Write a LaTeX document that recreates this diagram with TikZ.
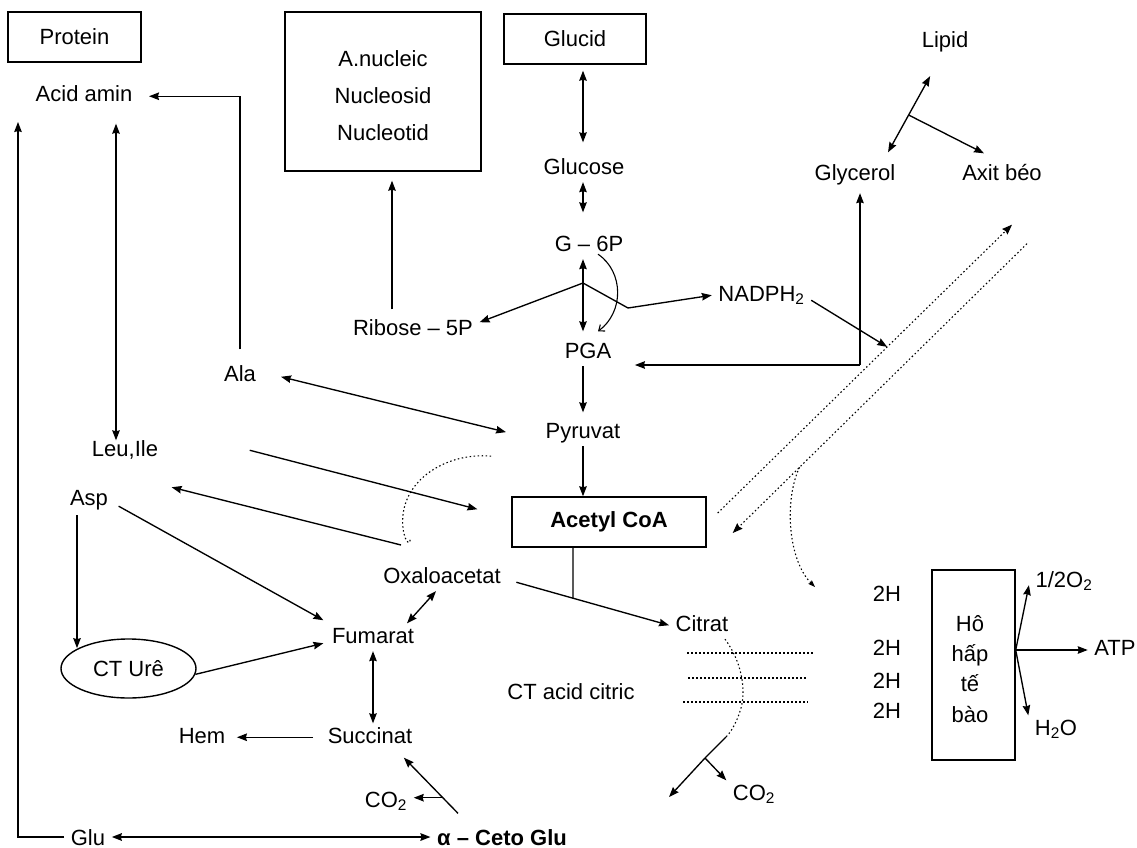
\documentclass[tikz,border=0pt]{standalone}
\usepackage{fontspec}
\setmainfont{Liberation Sans}
\usetikzlibrary{arrows.meta,calc,shapes.geometric}
\begin{document}
\begin{tikzpicture}[x=1pt,y=-1pt,
  line width=1.35pt,
  txt/.style={inner xsep=6pt, inner ysep=3pt, text height=16pt, text depth=4.5pt, font=\fontsize{22}{26}\selectfont, anchor=base},
  btxt/.style={txt, inner ysep=2pt, text depth=0pt},
  bx/.style={draw, line width=1.4pt, inner sep=0pt, font=\fontsize{22}{26}\selectfont},
  arr/.style={-{Stealth[length=10pt,width=7.5pt,inset=1pt]}},
  darr/.style={{Stealth[length=10pt,width=7.5pt,inset=1pt]}-{Stealth[length=10pt,width=7.5pt,inset=1pt]}},
  sarr/.style={-{Stealth[length=7pt,width=5pt,inset=1pt]}},
  dot/.style={line width=1.1pt, dash pattern=on 1.5pt off 2.5pt},
]
\fill[white] (0,0) rectangle (1137,848);
\useasboundingbox (0,0) rectangle (1137,848);

% ---------- boxes ----------
\node[bx, minimum width=133pt, minimum height=50pt] (protein) at (74.5,37) {Protein};
\node[bx, minimum width=196pt, minimum height=159pt] (nuc) at (383,91.5) {};
\node[align=center, inner sep=0pt, anchor=north, font=\fontsize{22}{37}\selectfont] (nuctext) at (383,50) {A.nucleic\\Nucleosid\\Nucleotid};
\node[bx, minimum width=142pt, minimum height=50pt] (glucid) at (575,39) {Glucid};
\node[bx, minimum width=194pt, minimum height=50pt, font=\fontsize{22}{26}\selectfont\bfseries] (acetyl) at (609,522) {Acetyl CoA};
\node[bx, minimum width=83pt, minimum height=190pt] (hohap) at (973.5,665) {};
\node[align=center, inner sep=0pt, anchor=north, font=\fontsize{22}{30.3}\selectfont] (hohaptext) at (970,614.5) {Hô\\hấp\\tế\\bào};
\node[draw, ellipse, minimum width=135pt, minimum height=59pt, inner sep=0pt, line width=1.4pt, font=\fontsize{22}{26}\selectfont] (ctu) at (128.5,668.5) {CT Urê};

% ---------- text nodes ----------
\node[txt] (acidamin) at (84,102) {Acid amin};
\node[txt] (glucose) at (584,174) {Glucose};
\node[txt] (lipid) at (945,48) {Lipid};
\node[txt] (glycerol) at (855,180) {Glycerol};
\node[txt] (axit) at (1002,180) {Axit béo};
\node[txt] (g6p) at (589,251) {G – 6P};
\node[txt] (nadph) at (761.5,301) {NADPH\textsubscript{2}};
\node[txt] (ribose) at (413,335) {Ribose – 5P};
\node[txt] (pga) at (588,358) {PGA};
\node[txt] (ala) at (240,381) {Ala};
\node[txt] (pyruvat) at (583,438) {Pyruvat};
\node[txt] (leu) at (125,456) {Leu,Ile};
\node[txt] (asp) at (89,505) {Asp};
\node[txt] (oxalo) at (442,583) {Oxaloacetat};
\node[txt] (citrat) at (702,631) {Citrat};
\node[txt] (fumarat) at (373,643) {Fumarat};
\node[txt] (ctac) at (571,699) {CT acid citric};
\node[txt] (hem) at (202,743) {Hem};
\node[txt] (succinat) at (370,743) {Succinat};
\node[txt] (co2a) at (386,807) {CO\textsubscript{2}};
\node[txt] (co2b) at (754,800) {CO\textsubscript{2}};
\node[btxt] (glu) at (88,845) {Glu};
\node[btxt, font=\fontsize{22}{26}\selectfont\bfseries] (ceto) at (502,845) {α – Ceto Glu};
\node[txt] (h1) at (887,601) {2H};
\node[txt] (h2) at (887,655) {2H};
\node[txt] (h3) at (887,688) {2H};
\node[txt] (h4) at (887,718) {2H};
\node[txt] (o2) at (1064,587) {1/2O\textsubscript{2}};
\node[txt] (atp) at (1115,655) {ATP};
\node[txt] (h2o) at (1056,735) {H\textsubscript{2}O};

% ---------- glucid column ----------
\coordinate (colx) at (583,0);
\draw[darr, shorten <=6pt, shorten >=12pt] (glucid.south -| colx) -- (glucose.north -| colx);
\draw[darr, shorten >=19pt] (glucose.south -| colx) -- (g6p.north -| colx);
\draw[darr, shorten >=7pt] (g6p.south -| colx) -- (pga.north -| colx);
\draw[arr, shorten >=6pt] (pga.south -| colx) -- (pyruvat.north -| colx);
\draw[arr] (pyruvat.south -| colx) -- (acetyl.north -| colx);

% pentose branch
\coordinate (br) at (583,283);
\coordinate (kk) at (628,308);
\draw[arr] (br) -- ([yshift=7pt]ribose.east);
\draw[arr] (br) -- (kk) -- (nadph.west);
\draw[-{Straight Barb[length=5pt,width=8pt]}, line width=1.1pt] ([xshift=9pt,yshift=5pt]g6p.south) .. controls (624,272) and (624,312) .. ([xshift=10pt,yshift=7pt]pga.north);
\coordinate (rx) at ([xshift=-21pt,yshift=6pt]ribose.north);
\draw[arr, shorten >=9pt] (rx) -- (rx |- nuc.south);

% glycerol / PGA
\coordinate (gc) at (860,365);
\draw[arr, shorten >=17pt] (gc) -- (pga.east |- gc);
\draw[arr, shorten >=5pt] (gc) -- (glycerol.south -| gc);

% lipid
\coordinate (glytip) at ([xshift=-14pt,yshift=8pt]glycerol.north east);
\coordinate (liptip) at ([xshift=15pt,yshift=-20pt]lipid.south west);
\draw[darr] (glytip) -- (liptip);
\coordinate (lj) at ($(glytip)!0.49!(liptip)$);
\draw[arr] (lj) -- ([xshift=-18pt,yshift=7pt]axit.north);

% fatty acid dotted lines
\coordinate (L1a) at ([xshift=11pt,yshift=9pt]acetyl.east);
\coordinate (L1b) at ([xshift=10pt,yshift=-36.5pt]axit.south);
\draw[dot, arr] (L1a) -- (L1b);
\coordinate (L2a) at ([xshift=25pt,yshift=-55.5pt]axit.south);
\coordinate (L2b) at ([xshift=26pt,yshift=-11pt]acetyl.east);
\draw[dot, arr] (L2a) -- (L2b);
\coordinate (L2c) at ($(L2a)!0.773!(L2b)$);
\coordinate (dc) at (815,587);
\draw[dot, sarr] (L2c) .. controls (784,500) and (788,560) .. (dc);
\coordinate (nadtip) at ($(L1a)!0.576!(L1b)$);
\draw[arr] ([yshift=-5pt]nadph.east) -- (nadtip);

% amino acids
\draw[arr] ([yshift=12pt]ala.north) |- ([xshift=10pt]acidamin.east);
\coordinate (aal) at ([xshift=32pt,yshift=-13.5pt]acidamin.south);
\draw[darr, shorten >=-4pt] (aal) -- (aal |- leu.north);
\coordinate (ltop) at (18,122);
\draw[arr] (glu.west) -| (ltop);
\draw[darr, shorten <=19pt, shorten >=34pt] ([yshift=3pt]ala.east) -- ([yshift=-8pt]pyruvat.west);
\draw[arr, shorten >=35pt] ([xshift=85pt]leu.east) -- ([yshift=4pt]acetyl.west);
\coordinate (hook) at (401,545);
\draw[arr] (hook) -- ([xshift=57pt,yshift=12pt]asp.east);
\draw[dot] ([xshift=-48pt,yshift=-10pt]pyruvat.south west) .. controls (445,452) and (398,482) .. (403,528) .. controls (405,546) and (413,545) .. (409,538);
\draw[arr] ([xshift=4pt,yshift=7pt]asp.south east) -- ([xshift=-2pt,yshift=17pt]fumarat.west);
\coordinate (aspx) at ([xshift=-12pt,yshift=-2pt]asp.south);
\draw[arr] (aspx) -- (aspx |- ctu.158);
\draw[arr] (ctu.-5) -- ([xshift=-2pt,yshift=-6pt]fumarat.west);

% cycle
\draw[darr] ([xshift=-6pt]oxalo.south) -- ([xshift=34pt]fumarat.north);
\draw[darr] (fumarat.south) -- (succinat.north -| fumarat.south);
\draw[arr, shorten <=8pt, shorten >=5pt] (succinat.west) -- (hem.east);
\coordinate (cs) at ([xshift=27.5pt,yshift=13pt]ceto.north west);
\coordinate (ct) at ([xshift=-15pt,yshift=-6.5pt]succinat.south east);
\draw[arr] (cs) -- (ct);
\coordinate (cb) at ($(cs)!0.281!(ct)$);
\draw[arr] (cb) -- (co2a.east |- cb);
\draw[darr, line width=1.8pt] (glu.east) -- (ceto.west);

\coordinate (os) at ([xshift=9pt,yshift=-5pt]oxalo.east);
\coordinate (cw) at (citrat.west);
\draw[arr] (os) -- (cw);
\coordinate (jx) at ([xshift=-36pt]acetyl.south);
\coordinate (jy) at ([xshift=-36pt,yshift=-80pt]acetyl.south);
\draw (jx) -- (intersection of jx--jy and os--cw);

% citrate -> CO2
\coordinate (cs0) at ([xshift=23pt]citrat.south);
\coordinate (ce) at (726,737);
\draw[dot] (cs0) .. controls (742,662) and (746,690) .. (741,708) .. controls (737,722) and (731,732) .. (ce);
\coordinate (cb3) at (705,758);
\coordinate (cyc) at (669,797);
\draw (ce) -- (cb3);
\draw[arr] (cb3) -- (cyc);
\draw[arr] (cb3) -- (co2b.north west);

% 2H dotted lines
\coordinate (d1a) at (687,653); \coordinate (d1b) at (813,653);
\coordinate (d2a) at (688,678); \coordinate (d2b) at (808,678);
\coordinate (d3a) at (683,702); \coordinate (d3b) at (808,702);
\draw[dot] (d1a) -- (d1b);
\draw[dot] (d2a) -- (d2b);
\draw[dot] (d3a) -- (d3b);

% respiration outputs
\coordinate (hb) at ([yshift=15pt]hohap.east);
\draw[arr] (hb) -- ([yshift=10pt]o2.south west);
\draw[arr] (hb) -- (atp.west |- hb);
\draw[arr] (hb) -- (h2o.north west);
\end{tikzpicture}
\end{document}
